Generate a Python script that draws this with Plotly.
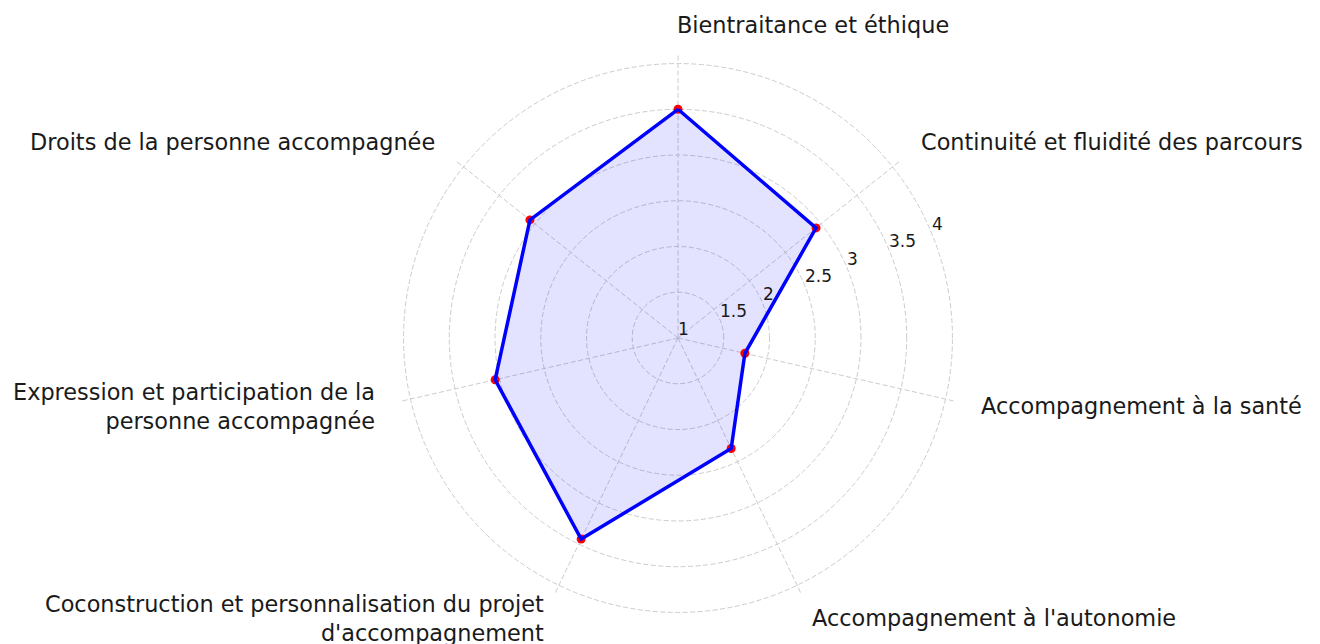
import math
import plotly.graph_objects as go

categories = [
    "Bientraitance et éthique",
    "Continuité et fluidité des parcours",
    "Accompagnement à la santé",
    "Accompagnement à l'autonomie",
    "Coconstruction et personnalisation du projet<br>d'accompagnement",
    "Expression et participation de la<br>personne accompagnée",
    "Droits de la personne accompagnée",
]
scores = [3.5, 2.93, 1.75, 2.34, 3.44, 3.05, 3.07]
radial_ticks = [1, 1.5, 2, 2.5, 3, 3.5, 4]
radial_ticktext = ["1", "1.5", "2", "2.5", "3", "3.5", "4"]

W, H = 1320, 644
PAGE_OFF = 8               # default body margin of the html page
cx = 678 - PAGE_OFF        # polar centre in paper px (from left)
cy = H - (338 - PAGE_OFF)  # polar centre in paper px (from bottom)
R = 283.6                  # polar radius in px
r_min, r_max = 1, 4.1
label_r = 4.41             # category label radius (data units)
rlabel_angle = 22.5        # radial tick label direction (deg, ccw from east)
PAD = 3                    # annotation inner padding

n = len(categories)
angles = [i * 360 / n for i in range(n)]
theta_closed = angles + [angles[0]]
r_closed = scores + [scores[0]]

fig = go.Figure()
fig.add_trace(go.Scatterpolar(
    r=r_closed, theta=theta_closed, mode="none", fill="toself",
    fillcolor="rgba(0,0,255,0.11)", hoverinfo="skip", showlegend=False))
fig.add_trace(go.Scatterpolar(
    r=scores, theta=angles, mode="markers",
    marker=dict(color="red", size=9), showlegend=False))
fig.add_trace(go.Scatterpolar(
    r=r_closed, theta=theta_closed, mode="lines",
    line=dict(color="blue", width=3.5), showlegend=False))

px_per_unit = R / (r_max - r_min)
annotations = []
for name, ang in zip(categories, angles):
    rad = math.radians(ang)
    dist = (label_r - r_min) * px_per_unit
    left = ang < 180
    x = cx + dist * math.sin(rad) + (-PAD if left else PAD)
    y = cy + dist * math.cos(rad) + 1
    annotations.append(dict(
        x=x / W, y=y / H, xref="paper", yref="paper", text=name,
        showarrow=False, xanchor="left" if left else "right",
        yanchor="middle", align="left" if left else "right",
        font=dict(family="DejaVu Sans", size=22.4, color="#1a1a1a")))

# radial tick labels, anchored left-bottom at (rlabel_angle, tick value)
ra = math.radians(rlabel_angle)
for val, txt in zip(radial_ticks, radial_ticktext):
    dist = (val - r_min) * px_per_unit
    x = cx + dist * math.cos(ra) - PAD + 1
    y = cy + dist * math.sin(ra) - 3
    annotations.append(dict(
        x=x / W, y=y / H, xref="paper", yref="paper", text=txt,
        showarrow=False, xanchor="left", yanchor="bottom",
        font=dict(family="DejaVu Sans", size=17, color="#1a1a1a")))

fig.update_layout(
    width=W, height=H,
    margin=dict(l=0, r=0, t=0, b=0),
    paper_bgcolor="white", plot_bgcolor="white",
    annotations=annotations,
    polar=dict(
        domain=dict(x=[(cx - R) / W, (cx + R) / W], y=[(cy - R) / H, (cy + R) / H]),
        bgcolor="white",
        angularaxis=dict(
            rotation=90, direction="clockwise", thetaunit="degrees",
            tickvals=angles, showticklabels=False, ticks="",
            showline=False, showgrid=True, gridcolor="#cccccc",
            griddash="5px,2.5px", gridwidth=1),
        radialaxis=dict(
            range=[r_min, r_max], tickvals=radial_ticks, showticklabels=False,
            showline=False, ticks="",
            showgrid=True, gridcolor="#cccccc", griddash="5px,2.5px", gridwidth=1),
    ),
)

fig.write_html("out.html")
